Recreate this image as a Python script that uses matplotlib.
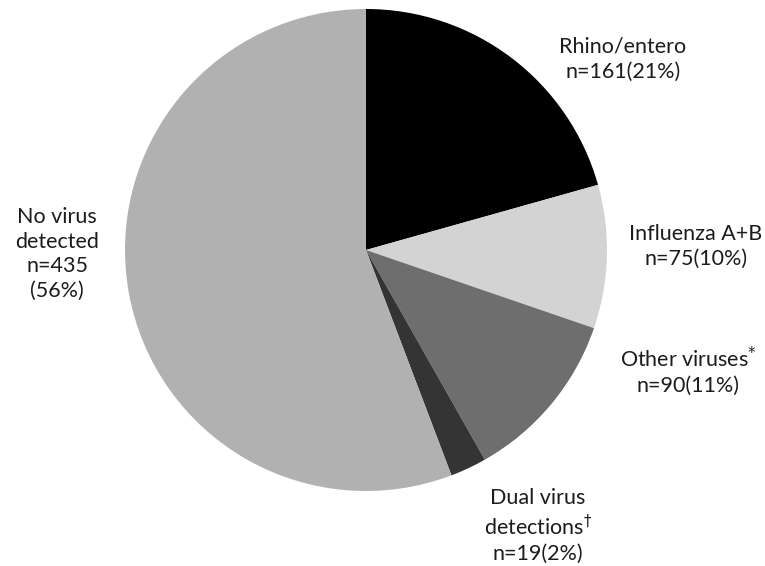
import matplotlib.pyplot as plt

plt.rcParams['font.family'] = ['Lato', 'DejaVu Sans']
plt.rcParams['mathtext.fontset'] = 'custom'
plt.rcParams['mathtext.rm'] = 'Lato'

# virus categories, counts and reported percentages
categorias = ["Rhino/entero", "Influenza A+B", "Other viruses", "Dual virus\ndetections", "No virus\ndetected"]
conteos = [161, 75, 90, 19, 435]
porcentajes = [21, 10, 11, 2, 56]
colores = ["#000000", "#d3d3d3", "#6e6e6e", "#343434", "#b1b1b1"]

fig = plt.figure(figsize=(7.65, 5.66), dpi=100)
ax = fig.add_axes([125/765, 75/566, 482/765, 482/566])

ax.pie(conteos, colors=colores, startangle=90, counterclock=False, radius=1,
       wedgeprops=dict(linewidth=0))
ax.set_xlim(-1, 1)
ax.set_ylim(-1, 1)
ax.set_aspect('equal')
ax.axis('off')


def px(x, y):
	# pixel position -> figure fraction
	return x / 765, 1 - y / 566


etiquetas = [
	(f"Rhino/entero\nn={conteos[0]}({porcentajes[0]}%)", 623, 59),
	(f"Influenza A+B\nn={conteos[1]}({porcentajes[1]}%)", 696, 246),
	(f"Other viruses$^{{\\mathsf{{*}}}}$\nn={conteos[2]}({porcentajes[2]}%)", 688, 371),
	(f"Dual virus\ndetections$^{{\\mathsf{{\u2020}}}}$\nn={conteos[3]}({porcentajes[3]}%)", 538, 526),
	(f"No virus\ndetected\nn={conteos[4]}\n({porcentajes[4]}%)", 57, 254),
]
for texto, x, y in etiquetas:
	fx, fy = px(x, y)
	fig.text(fx, fy, texto, ha='center', va='center', fontsize=15.5,
		color='#1c1c1c', linespacing=1.3)

plt.savefig("out.png", dpi=100)
